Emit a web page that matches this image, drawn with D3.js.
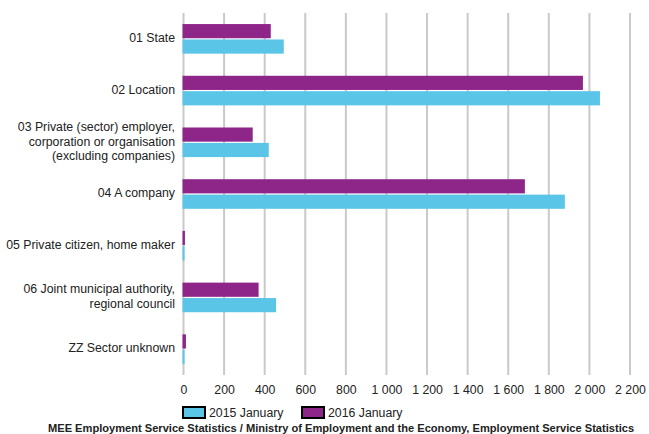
<!DOCTYPE html>
<html>
<head>
<meta charset="utf-8">
<script src="https://cdn.jsdelivr.net/npm/d3@7"></script>
<style>
  body { margin: 0; background: #fff; }
  text { font-family: "Liberation Sans", Arial, sans-serif; fill: #222; }
</style>
</head>
<body>
<div id="chart"></div>
<script>
// categories (labels split into lines as in the original)
const categories = [
  ["01 State"],
  ["02 Location"],
  ["03 Private (sector) employer,", "corporation or organisation", "(excluding companies)"],
  ["04 A company"],
  ["05 Private citizen, home maker"],
  ["06 Joint municipal authority,", "regional council"],
  ["ZZ Sector unknown"]
];
const seriesNames = ["2015 January", "2016 January"];
const values2015 = [494, 2052, 420, 1879, 5, 456, 5];
const values2016 = [430, 1968, 341, 1682, 7, 370, 12];
const xTicks = [0, 200, 400, 600, 800, 1000, 1200, 1400, 1600, 1800, 2000, 2200];
const colors = { "2015 January": "#5bc5e8", "2016 January": "#8e2589" };
const source = "MEE Employment Service Statistics / Ministry of Employment and the Economy, Employment Service Statistics";

const width = 649, height = 434;
const svg = d3.select("#chart").append("svg")
  .attr("width", width)
  .attr("height", height);

const catKeys = categories.map(c => c.join(" "));

// scales
const x = d3.scaleLinear().domain([0, 2200]).range([183.5, 630]);
const y = d3.scaleBand().domain(catKeys).range([13, 375])
  .paddingInner(0.38).paddingOuter(0.19);
// 2016 drawn on top, 2015 below
const ySub = d3.scaleBand().domain(["2016 January", "2015 January"])
  .range([0, y.bandwidth()]).padding(0.08);

const fmt = d3.formatLocale({ decimal: ",", thousands: " ", grouping: [3], currency: ["", ""] }).format(",");

// gridlines
svg.append("g").selectAll("line").data(xTicks).enter().append("line")
  .attr("x1", d => x(d)).attr("x2", d => x(d))
  .attr("y1", 13).attr("y2", 375)
  .attr("stroke", "#c9c9c9")
  .attr("stroke-width", 2);

// x axis labels
const xAxis = d3.axisBottom(x).tickValues(xTicks).tickFormat(fmt).tickSize(0).tickPadding(10);
const gx = svg.append("g").attr("transform", "translate(0,375)").call(xAxis);
gx.select(".domain").remove();
gx.selectAll("text")
  .style("font-family", "Liberation Sans, Arial, sans-serif")
  .style("font-size", "12.3px")
  .attr("fill", "#222");

// bars
const rows = catKeys.map((k, i) => ({
  key: k,
  vals: [
    { name: "2016 January", v: values2016[i] },
    { name: "2015 January", v: values2015[i] }
  ]
}));

const groups = svg.append("g").selectAll("g").data(rows).enter().append("g")
  .attr("transform", d => "translate(0," + y(d.key) + ")");

groups.selectAll("rect").data(d => d.vals).enter().append("rect")
  .attr("x", x(0) - 1)
  .attr("y", d => ySub(d.name))
  .attr("width", d => x(d.v) - x(0) + 1)
  .attr("height", ySub.bandwidth())
  .attr("fill", d => colors[d.name]);

// category labels
const labels = svg.append("g").selectAll("text").data(categories).enter().append("text")
  .attr("text-anchor", "end")
  .attr("font-size", "12.3px")
  .attr("x", 175)
  .attr("y", (d, i) => y(catKeys[i]) + y.bandwidth() / 2 - (d.length - 1) * 7 + 3);

labels.selectAll("tspan").data(d => d).enter().append("tspan")
  .attr("x", 175)
  .attr("dy", (d, i) => i === 0 ? 0 : 14.5)
  .text(d => d);

// legend
const legend = svg.append("g").selectAll("g").data(seriesNames).enter().append("g")
  .attr("transform", (d, i) => "translate(" + (i === 0 ? 183 : 302) + ",407)");

legend.append("rect")
  .attr("width", 22).attr("height", 11)
  .attr("fill", d => colors[d])
  .attr("stroke", "#000")
  .attr("stroke-width", 2);

legend.append("text")
  .attr("x", 26).attr("y", 10)
  .attr("font-size", "12.3px")
  .text(d => d);

// source line (kept just inside the frame)
svg.append("text")
  .attr("x", 48).attr("y", 432)
  .attr("font-size", "11.1px")
  .attr("font-weight", "bold")
  .attr("fill", "#111")
  .text(source);
</script>
</body>
</html>
